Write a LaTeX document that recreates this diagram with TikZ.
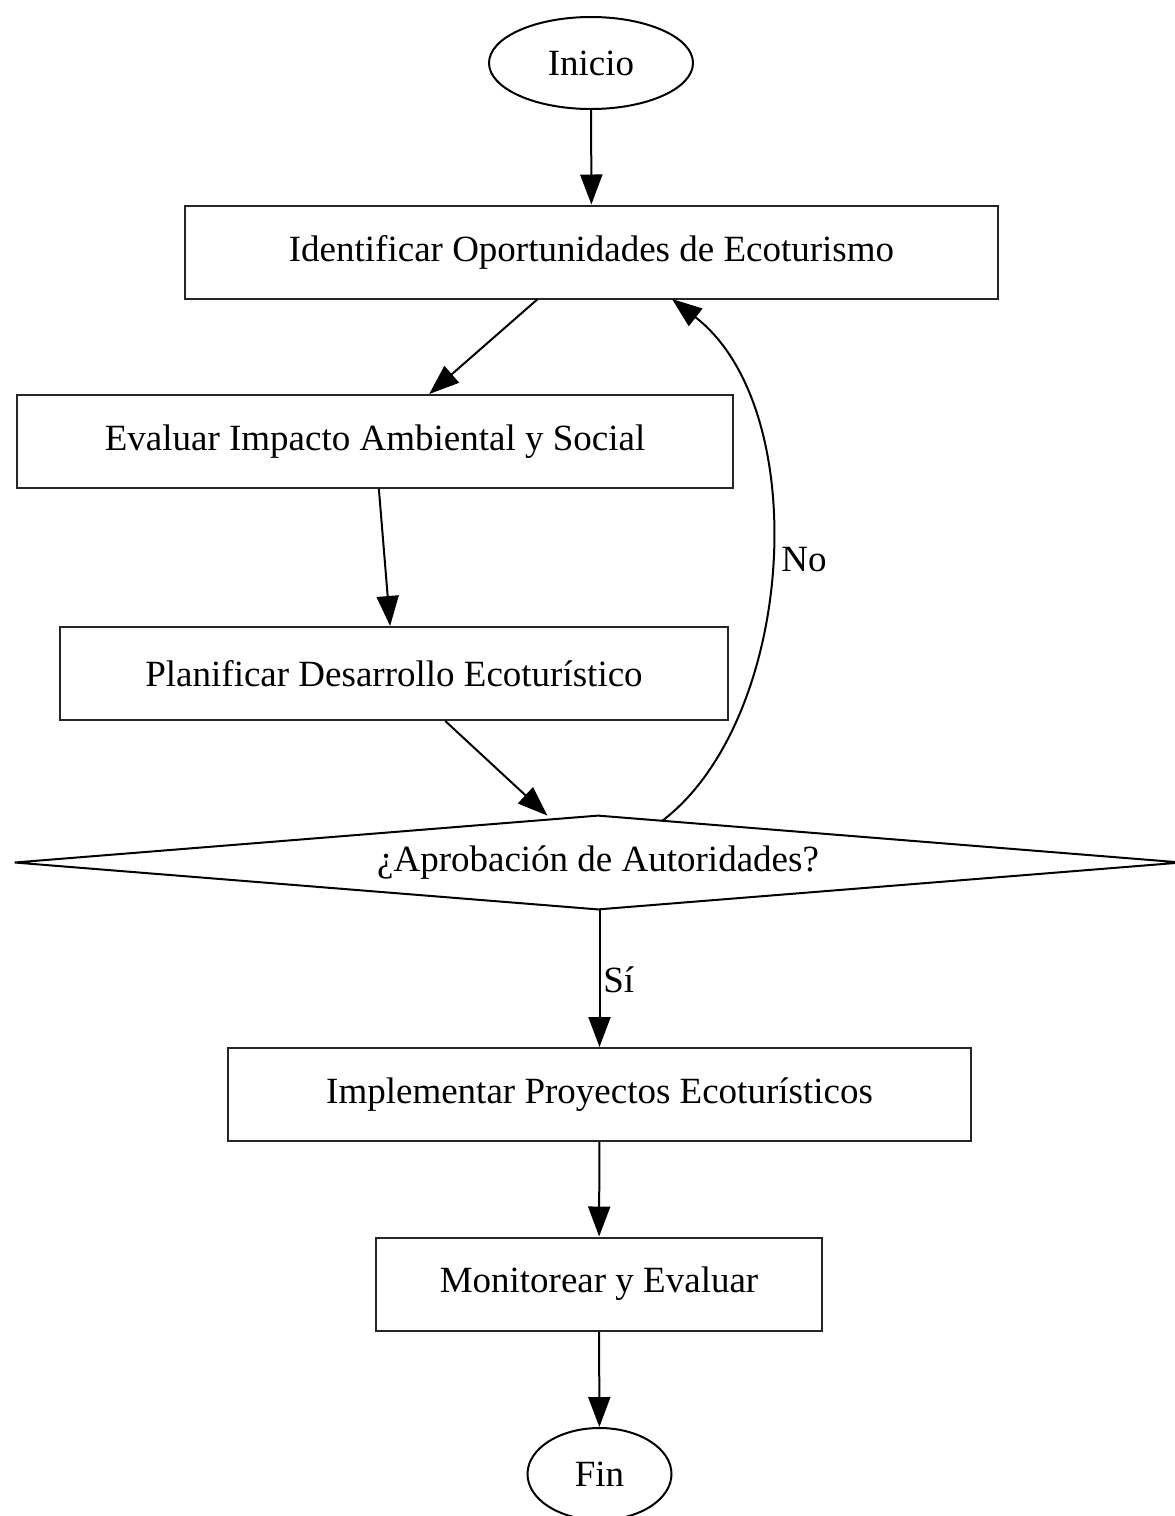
\documentclass[tikz,border=0pt]{standalone}
\usepackage{fontspec}
\setmainfont{Liberation Serif}
\usetikzlibrary{arrows.meta,shapes.geometric}
\begin{document}
\begin{tikzpicture}[x=0.5pt,y=-0.5pt,
  font=\fontsize{18.5}{22}\selectfont,
  every node/.style={inner sep=0pt},
  proc/.style={draw=black!85, line width=1pt, minimum height=46.5pt},
  term/.style={draw=black, line width=1pt, ellipse},
  arr/.style={line width=1pt, -{Triangle[length=15pt,width=11pt]}},
  lbl/.style={anchor=west}
]
\useasboundingbox (0,0) rectangle (1174,1516);
\node[term, minimum width=102pt, minimum height=46pt] (ini) at (591,63) {Inicio};
\node[proc, minimum width=406.5pt] (b1) at (591.5,252) {Identificar Oportunidades de Ecoturismo};
\node[proc, minimum width=358pt] (b2) at (375,441.5) {Evaluar Impacto Ambiental y Social};
\node[proc, minimum width=334pt] (b3) at (394,673.5) {Planificar Desarrollo Ecoturístico};
\node[minimum width=583pt, minimum height=46.5pt] (d) at (598,862.5) {¿Aprobación de Autoridades?};
\draw[line width=1pt] (d.west) -- (d.north) -- (d.east) -- (d.south) -- cycle;
\node[proc, minimum width=371.5pt] (b4) at (599.5,1094.5) {Implementar Proyectos Ecoturísticos};
\node[proc, minimum width=223pt] (b5) at (599,1284) {Monitorear y Evaluar};
\node[term, minimum width=72pt, minimum height=46pt] (fin) at (599.5,1474) {Fin};
\coordinate (dno) at (662,821);
\coordinate (b1no) at (672,299);
\draw[arr] (ini) -- (b1);
\draw[arr] (b1) -- (b2);
\draw[arr] (b2) -- (b3);
\draw[arr] (b3) -- (d);
\draw[arr] (dno) .. controls (795,720) and (815,410) .. (b1no);
\node[lbl] (no) at (781,560) {No};
\draw[arr] (d.south -| b4) -- (b4);
\node[lbl] (si) at (603,980) {Sí};
\draw[arr] (b4) -- (b5);
\draw[arr] (b5) -- (fin);
\end{tikzpicture}
\end{document}
